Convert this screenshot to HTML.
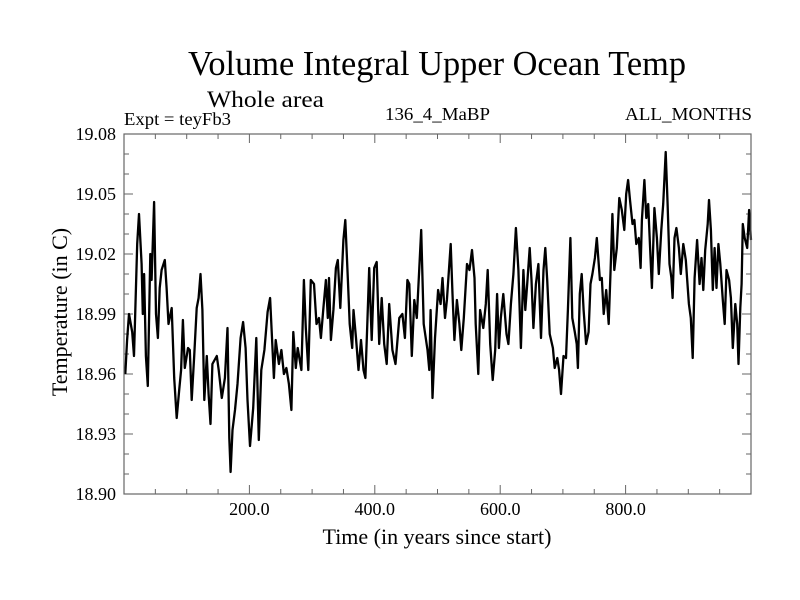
<!DOCTYPE html>
<html><head><meta charset="utf-8"><style>
html,body{margin:0;padding:0;background:#fff;}
svg{display:block;font-family:"Liberation Serif",serif;}
</style></head><body>
<svg id="chart" width="800" height="600" viewBox="0 0 800 600" xmlns="http://www.w3.org/2000/svg">
<rect x="0" y="0" width="800" height="600" fill="#fff"/>
<text x="188" y="75" font-size="35" textLength="498" lengthAdjust="spacingAndGlyphs">Volume Integral Upper Ocean Temp</text>
<text x="207" y="107" font-size="23" textLength="117" lengthAdjust="spacingAndGlyphs">Whole area</text>
<text x="124" y="125" font-size="18" textLength="107" lengthAdjust="spacingAndGlyphs">Expt = teyFb3</text>
<text x="385" y="120" font-size="18" textLength="105" lengthAdjust="spacingAndGlyphs">136_4_MaBP</text>
<text x="625" y="120" font-size="18" textLength="127" lengthAdjust="spacingAndGlyphs">ALL_MONTHS</text>
<text x="437" y="544" font-size="22" text-anchor="middle">Time (in years since start)</text>
<text x="0" y="0" font-size="22" text-anchor="middle" transform="translate(67,312) rotate(-90)">Temperature (in C)</text>
<g id="ticks"></g>
<g id="labels"></g>
<path id="series" fill="none" stroke="#000" stroke-width="2.3" stroke-linejoin="round"/>
<rect x="124" y="134" width="627" height="360" fill="none" stroke="#666" stroke-width="1.2"/>
</svg>
<script>
const years = [2,5,8,13,16,21,24,28,30,32,35,38,42,44,48,51,54,57,60,65,68,71,76,80,84,88,91,94,97,102,105,108,112,116,119,122,125,128,132,135,138,141,148,151,156,161,165,168,170,173,177,181,186,190,194,197,201,206,211,215,219,224,229,233,236,239,242,247,251,255,259,263,267,270,274,277,283,287,290,294,298,303,307,311,314,318,322,325,327,330,334,338,341,345,350,353,357,360,364,366,370,374,378,382,385,388,391,395,399,403,407,411,415,419,423,428,433,439,444,448,452,455,459,463,467,471,474,478,484,487,489,492,496,501,505,508,512,515,521,524,527,531,535,538,542,547,551,555,559,561,565,568,573,577,580,584,588,592,595,598,601,605,610,613,617,621,625,629,633,637,640,643,647,650,653,657,661,665,669,672,675,679,684,687,691,694,697,701,705,708,712,715,719,722,724,727,730,733,737,741,744,747,751,754,759,762,765,769,773,776,779,782,786,790,794,798,801,804,807,811,814,817,821,824,826,830,833,836,839,842,846,850,853,857,860,864,867,870,873,875,878,881,885,888,892,896,901,904,907,910,914,918,921,924,927,931,933,936,939,942,945,948,951,955,958,961,965,968,971,975,978,980,983,985,987,990,994,997,1000];
const temps = [18.960,18.977,18.990,18.981,18.969,19.025,19.040,19.015,18.990,19.010,18.969,18.954,19.020,19.007,19.046,18.990,18.978,19.003,19.012,19.017,19.003,18.985,18.993,18.958,18.938,18.952,18.962,18.987,18.963,18.973,18.972,18.947,18.969,18.993,18.998,19.010,18.992,18.947,18.969,18.950,18.935,18.965,18.969,18.962,18.948,18.958,18.983,18.928,18.911,18.932,18.942,18.955,18.978,18.986,18.973,18.947,18.924,18.943,18.978,18.927,18.962,18.972,18.991,18.998,18.978,18.958,18.977,18.965,18.972,18.960,18.963,18.955,18.942,18.981,18.963,18.973,18.962,19.007,18.983,18.962,19.007,19.005,18.985,18.988,18.978,18.993,19.007,18.988,19.008,18.977,18.992,19.013,19.017,18.993,19.027,19.037,19.008,18.985,18.973,18.992,18.978,18.962,18.977,18.962,18.958,18.985,19.013,18.977,19.013,19.016,18.975,18.998,18.975,18.965,18.995,18.972,18.965,18.988,18.990,18.978,19.007,19.005,18.969,18.997,18.988,19.013,19.032,18.985,18.972,18.962,18.992,18.948,18.978,19.002,18.995,19.008,18.988,18.997,19.025,19.000,18.977,18.997,18.985,18.972,18.988,19.015,19.012,19.022,19.008,18.985,18.960,18.992,18.983,18.995,19.012,18.975,18.957,18.972,19.000,18.973,18.988,19.000,18.980,18.975,18.995,19.010,19.033,19.012,18.973,19.012,18.992,19.005,19.023,19.007,18.983,19.005,19.015,18.978,19.012,19.023,19.007,18.980,18.973,18.963,18.968,18.962,18.950,18.969,18.968,18.992,19.028,18.988,18.981,18.975,18.963,19.000,19.010,18.992,18.975,18.981,19.005,19.010,19.018,19.028,19.007,19.008,18.990,19.002,18.985,19.012,19.040,19.012,19.023,19.048,19.042,19.032,19.050,19.057,19.047,19.035,19.037,19.025,19.028,19.013,19.037,19.057,19.038,19.045,19.023,19.003,19.043,19.028,19.010,19.032,19.045,19.071,19.045,19.015,19.008,18.998,19.028,19.033,19.023,19.010,19.025,19.017,18.995,18.988,18.968,19.008,19.027,19.005,19.018,19.002,19.022,19.035,19.047,19.032,19.002,19.023,19.003,19.025,19.015,18.997,18.985,19.012,19.007,18.998,18.973,18.995,18.985,18.965,18.993,19.005,19.035,19.028,19.023,19.042,19.027];
const xTicks = [200,400,600,800];
const xTickLabels = ["200.0","400.0","600.0","800.0"];
const yTicks = [18.90,18.93,18.96,18.99,19.02,19.05,19.08];
const yTickLabels = ["18.90","18.93","18.96","18.99","19.02","19.05","19.08"];

const X0=124, X1=751, Y0=494, Y1=134;
const xMin=0, xMax=1000, yMin=18.90, yMax=19.08;
function xs(v){return X0+(v-xMin)/(xMax-xMin)*(X1-X0);}
function ys(v){return Y0-(v-yMin)/(yMax-yMin)*(Y0-Y1);}
const NS="http://www.w3.org/2000/svg";
const tg=document.getElementById('ticks');
const lg=document.getElementById('labels');
function line(x1,y1,x2,y2,name){
  const l=document.createElementNS(NS,'line');
  l.setAttribute('x1',x1);l.setAttribute('y1',y1);l.setAttribute('x2',x2);l.setAttribute('y2',y2);
  l.setAttribute('stroke','#666');l.setAttribute('stroke-width','1');
  
  
  tg.appendChild(l);
}
for(let v=50; v<1000; v+=50){
  const x=xs(v); const len=(v%200===0)?9:5;
  line(x,Y0,x,Y0-len,'x-tick');
  line(x,Y1,x,Y1+len,'x-tick-top');
}
for(let i=1;i<18;i++){
  const v=yMin+i*0.01; const y=ys(v); const len=(i%3===0)?9:5;
  line(X0,y,X0+len,y,'y-tick');
  line(X1,y,X1-len,y,'y-tick-right');
}
xTicks.forEach((v,i)=>{
  const t=document.createElementNS(NS,'text');
  t.setAttribute('x',xs(v));t.setAttribute('y',515);t.setAttribute('font-size','18');
  t.setAttribute('text-anchor','middle');
  t.textContent=xTickLabels[i];
  
  
  lg.appendChild(t);
});
yTicks.forEach((v,i)=>{
  const t=document.createElementNS(NS,'text');
  t.setAttribute('x',116);t.setAttribute('y',ys(v)+6);t.setAttribute('font-size','18');
  t.setAttribute('text-anchor','end');
  t.textContent=yTickLabels[i];
  
  
  lg.appendChild(t);
});
let d='';
years.forEach((yr,i)=>{d+=(i?'L':'M')+xs(yr).toFixed(1)+','+ys(temps[i]).toFixed(1);});
document.getElementById('series').setAttribute('d',d);
</script>
</body></html>
